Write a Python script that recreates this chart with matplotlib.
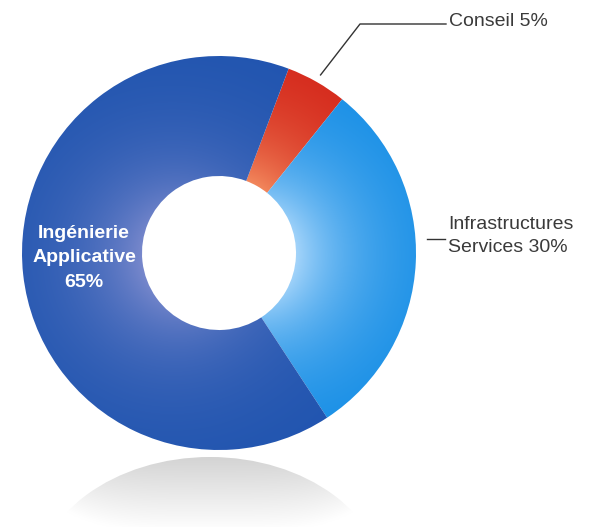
import numpy as np
import matplotlib
matplotlib.use("Agg")
import matplotlib.pyplot as plt
from matplotlib.patches import Ellipse
from matplotlib.colors import to_rgb
from matplotlib import font_manager

# data
labels = ["Conseil", "Infrastructures\nServices", "Ingénierie\nApplicative"]
shares = [5, 30, 65]
dark = ["#d01a12", "#0a88e4", "#1c52ae"]
light = ["#f2875c", "#a4d4fa", "#7888cc"]

W, H = 595, 527
cx, cy, R, r_in = 219, 274, 197, 77
start = 69.3

# narrow font for the side labels if we have it
try:
    font_manager.findfont("Liberation Sans Narrow", fallback_to_default=False)
    side_font, side_size = ["Liberation Sans Narrow", "DejaVu Sans"], 15
except Exception:
    side_font, side_size = ["Liberation Sans", "DejaVu Sans"], 14

fig = plt.figure(figsize=(W / 100, H / 100), dpi=100)
ax = fig.add_axes([0, 0, 1, 1])

wedges, _ = ax.pie(shares, radius=R, center=(cx, cy), startangle=start,
                   counterclock=False, wedgeprops=dict(width=R - r_in, linewidth=0))

# shading: light near the hole, strongest around the middle of each slice
xs = np.linspace(0, W, 500)
ys = np.linspace(0, H, 440)
X, Y = np.meshgrid(xs, ys)
dist = np.hypot(X - cx, Y - cy)
theta = np.degrees(np.arctan2(Y - cy, X - cx))
acc = 0
for w, s, d, l in zip(wedges, shares, dark, light):
    mid = start - (acc + s / 2) / 100 * 360
    acc += s
    dth = (theta - mid + 180) % 360 - 180
    ang = np.exp(-(dth / 75) ** 2)
    t = np.exp(-np.clip(dist - r_in, 0, None) / 70) * (0.3 + 0.7 * ang)
    c0, c1 = np.array(to_rgb(d)), np.array(to_rgb(l))
    img = c0 + (c1 - c0) * np.clip(t, 0, 1)[..., None]
    im = ax.imshow(img, extent=(0, W, 0, H), origin="lower", zorder=2,
                   interpolation="bilinear")
    im.set_clip_path(w)
    w.set_visible(False)

# faded reflection below the ring
ref_x, ref_top, ref_a, ref_b = 210, H - 457, 175, 130
gy = np.linspace(0, 1, 120)[:, None]
gx = np.linspace(-1, 1, 200)[None, :]
shade = np.clip(0.83 + 0.16 * gy + 0.1 * gx ** 4, 0, 1)
rimg = np.repeat(shade[..., None], 3, axis=2)
rim = ax.imshow(rimg, extent=(ref_x - ref_a, ref_x + ref_a, 0, ref_top),
                origin="upper", zorder=1, interpolation="bilinear", aspect="auto")
rim.set_clip_path(Ellipse((ref_x, ref_top - ref_b), 2 * ref_a, 2 * ref_b,
                          transform=ax.transData))

# labels
mid_c = np.deg2rad(start - shares[0] / 100 * 360 / 2)
ax.plot([cx + (R + 8) * np.cos(mid_c), 360, 446],
        [cy + (R + 8) * np.sin(mid_c), H - 24, H - 24], color="#333333", lw=1, zorder=3)
ax.text(449, H - 21, "%s %d%%" % (labels[0], shares[0]), fontsize=side_size,
        va="center", ha="left", color="#3a3a3a", family=side_font)

ax.plot([427, 445], [H - 239, H - 239], color="#333333", lw=1, zorder=3)
ax.text(448, H - 236, "%s %d%%" % (labels[1], shares[1]), fontsize=side_size,
        va="center", ha="left", color="#3a3a3a", linespacing=1.45, family=side_font)

ax.text(84, H - 258, "%s\n%d%%" % (labels[2], shares[2]), fontsize=14,
        fontweight="bold", va="center", ha="center", color="white",
        linespacing=1.6, zorder=4, family=["Liberation Sans", "DejaVu Sans"])

ax.set_xlim(0, W)
ax.set_ylim(0, H)
ax.set_aspect("auto")
ax.axis("off")
fig.savefig("out.png", dpi=100)
